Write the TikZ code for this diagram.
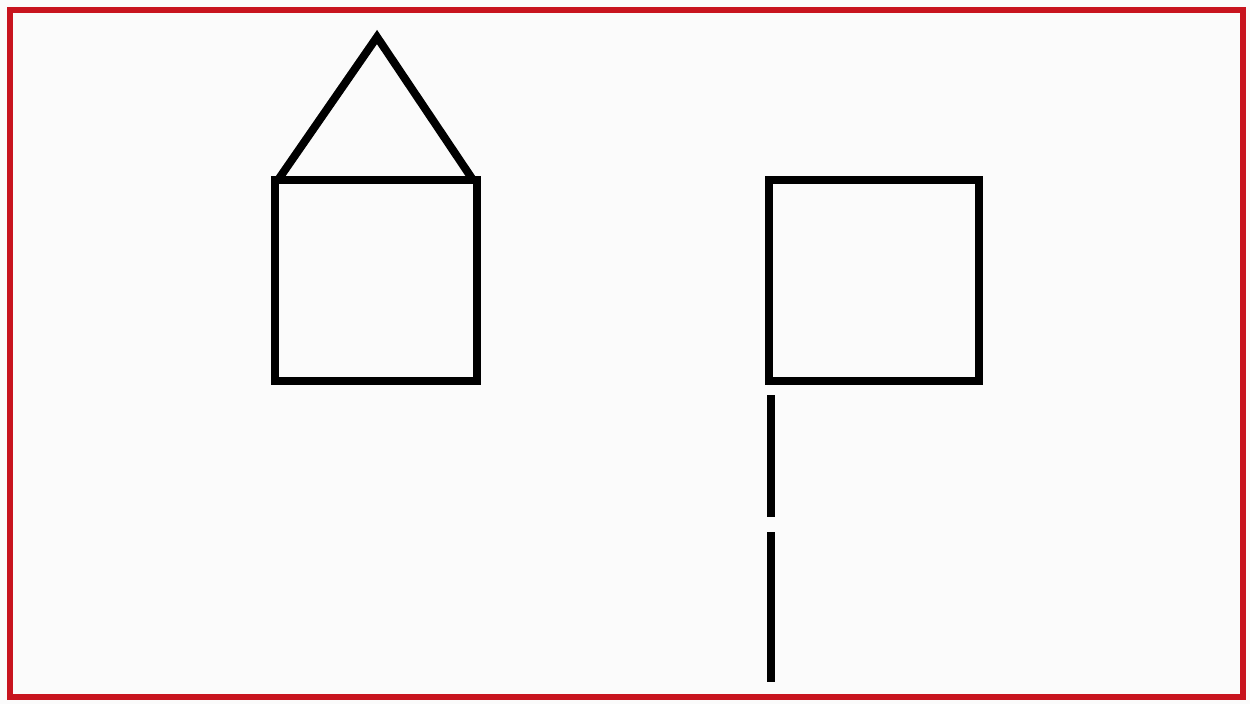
\documentclass[tikz,border=0pt]{standalone}
\definecolor{framered}{HTML}{C8141E}
\definecolor{paper}{HTML}{FBFBFB}
\begin{document}
\begin{tikzpicture}[x=1pt,y=-1pt,
  ink/.style={draw=black,line width=8pt,line join=miter},
  frame/.style={draw=framered,line width=6.5pt}]
\useasboundingbox (0,0) rectangle (1250,704);
\fill[paper] (0,0) rectangle (1250,704);
\draw[frame] (10,10) rectangle (1243,697);
% house
\draw[ink] (275,180) rectangle (477,381);
\draw[ink] (278,180) -- (377,37) -- (473,180);
% right square
\draw[ink] (769,180) rectangle (979,381);
% vertical line with gap
\draw[ink] (771,395) -- (771,517);
\draw[ink] (771,532) -- (771,682);
\end{tikzpicture}
\end{document}
